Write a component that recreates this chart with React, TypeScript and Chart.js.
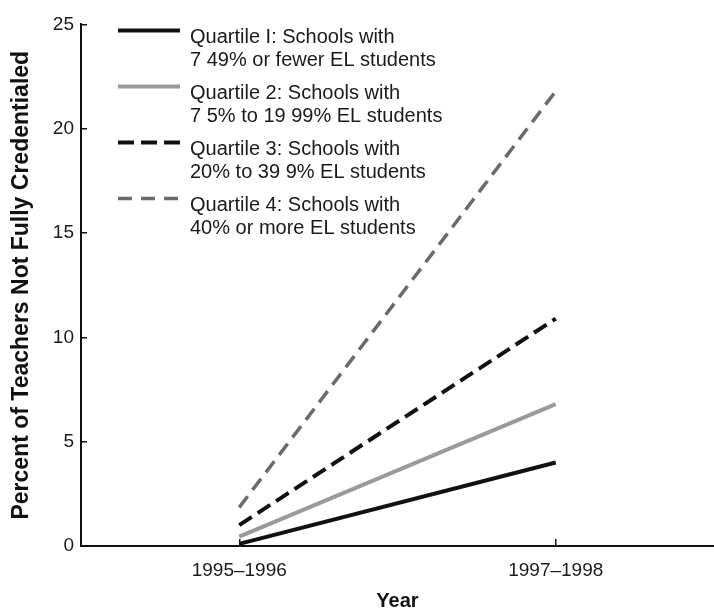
import React, { useEffect, useRef } from "react";
import { Chart, registerables } from "chart.js";

Chart.register(...registerables);

const categories = ["1995–1996", "1997–1998"];
const quartile1 = [0.1, 4.0];
const quartile2 = [0.45, 6.8];
const quartile3 = [1.0, 10.9];
const quartile4 = [1.85, 21.8];
const yMin = 0;
const yMax = 25;
const yStep = 5;
const legendText = [
  ["Quartile I: Schools with", "7 49% or fewer EL students"],
  ["Quartile 2: Schools with", "7 5% to 19 99% EL students"],
  ["Quartile 3: Schools with", "20% to 39 9% EL students"],
  ["Quartile 4: Schools with", "40% or more EL students"],
];
const yTitle = "Percent of Teachers Not Fully Credentialed";
const xTitle = "Year";

const FONT = "'Liberation Sans', Arial, Helvetica, sans-serif";

const legendPlugin = {
  id: "insetLegend",
  afterDatasetsDraw(chart: any) {
    const { ctx, chartArea } = chart;
    ctx.save();
    chart.data.datasets.forEach((ds: any, i: number) => {
      const y0 = chartArea.top + 6 + i * 56;
      const x0 = chartArea.left + 37;
      const x1 = chartArea.left + 99;
      ctx.beginPath();
      ctx.strokeStyle = ds.borderColor;
      ctx.lineWidth = ds.borderWidth;
      ctx.lineCap = "butt";
      ctx.setLineDash(ds.legendDash || []);
      ctx.moveTo(x0, y0);
      ctx.lineTo(x1, y0);
      ctx.stroke();
      ctx.setLineDash([]);
      ctx.fillStyle = "#1a1a1a";
      ctx.font = `20px ${FONT}`;
      ctx.textBaseline = "middle";
      ctx.textAlign = "left";
      legendText[i].forEach((t, j) => {
        ctx.fillText(t, chartArea.left + 109, y0 + 7 + j * 23);
      });
    });
    ctx.restore();
  },
};

export default function App() {
  const ref = useRef<HTMLCanvasElement>(null);

  useEffect(() => {
    if (!ref.current) return;
    const chart = new Chart(ref.current, {
      type: "line",
      data: {
        labels: categories,
        datasets: [
          {
            label: legendText[0].join(" "),
            data: quartile1,
            borderColor: "#111111",
            borderWidth: 4,
            pointRadius: 0,
            legendDash: [],
          } as any,
          {
            label: legendText[1].join(" "),
            data: quartile2,
            borderColor: "#9a9a9a",
            borderWidth: 4,
            pointRadius: 0,
            legendDash: [],
          } as any,
          {
            label: legendText[2].join(" "),
            data: quartile3,
            borderColor: "#111111",
            borderWidth: 4,
            borderDash: [15, 7],
            pointRadius: 0,
            legendDash: [16, 7],
          } as any,
          {
            label: legendText[3].join(" "),
            data: quartile4,
            borderColor: "#6a6a6a",
            borderWidth: 3.5,
            borderDash: [14, 8],
            pointRadius: 0,
            legendDash: [14, 9],
          } as any,
        ],
      },
      options: {
        responsive: false,
        animation: false,
        layout: { padding: { top: 12, right: 0, left: 0, bottom: 0 } },
        plugins: {
          legend: { display: false },
          tooltip: { enabled: false },
        },
        scales: {
          x: {
            type: "category",
            offset: true,
            grid: {
              display: true,
              drawOnChartArea: false,
              drawTicks: true,
              tickLength: -7,
              color: "#111",
              lineWidth: 1.5,
              offset: false,
            },
            border: { display: true, color: "#111", width: 2 },
            ticks: {
              color: "#1a1a1a",
              font: { family: FONT, size: 19 },
              padding: 20,
              maxRotation: 0,
            },
            title: {
              display: true,
              text: xTitle,
              color: "#111",
              font: { family: FONT, size: 20, weight: "bold", lineHeight: 1 },
              padding: { top: 0, bottom: 0 },
            },
            afterFit(scale: any) {
              scale.height = 65;
            },
          },
          y: {
            min: yMin,
            max: yMax,
            ticks: {
              stepSize: yStep,
              color: "#1a1a1a",
              font: { family: FONT, size: 19 },
              padding: 13,
            },
            grid: {
              display: true,
              drawOnChartArea: false,
              drawTicks: true,
              tickLength: -6,
              color: "#111",
              lineWidth: 1.5,
            },
            border: { display: true, color: "#111", width: 2 },
            title: {
              display: true,
              text: yTitle,
              color: "#111",
              font: { family: FONT, size: 23, weight: "bold" },
              padding: { top: 8, bottom: 0 },
            },
            afterFit(scale: any) {
              scale.width = 81;
            },
          },
        },
      } as any,
      plugins: [legendPlugin],
    });
    return () => chart.destroy();
  }, []);

  return (
    <div style={{ position: "absolute", left: 0, top: 0, width: 714, height: 611, background: "#fff" }}>
      <canvas ref={ref} width={714} height={611} style={{ display: "block" }} />
    </div>
  );
}
